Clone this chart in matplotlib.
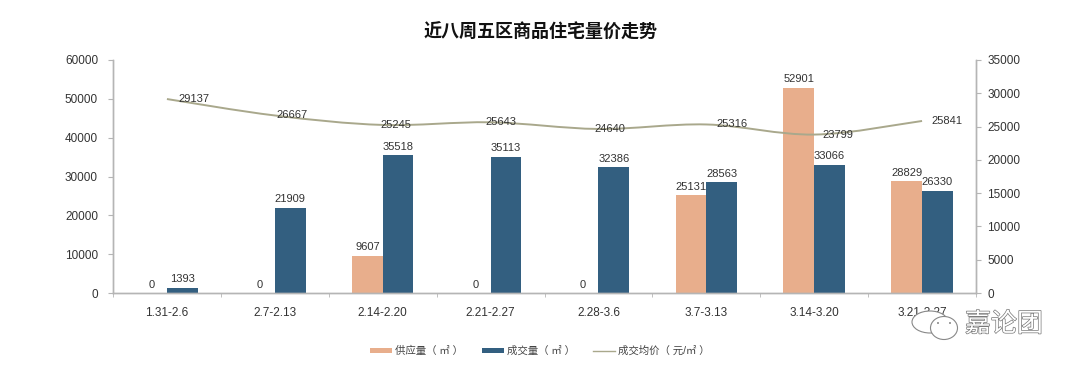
import numpy as np
import matplotlib
matplotlib.use("Agg")
import matplotlib.pyplot as plt
from matplotlib.path import Path
from matplotlib.patches import PathPatch, Ellipse
import matplotlib.patheffects as pe

plt.rcParams['font.family'] = ['Liberation Sans', 'Noto Sans CJK SC', 'DejaVu Sans']

weeks = ["1.31-2.6", "2.7-2.13", "2.14-2.20", "2.21-2.27", "2.28-3.6", "3.7-3.13", "3.14-3.20", "3.21-3.27"]
supply = [0, 0, 9607, 0, 0, 25131, 52901, 28829]
deals = [1393, 21909, 35518, 35113, 32386, 28563, 33066, 26330]
price = [29137, 26667, 25245, 25643, 24640, 25316, 23799, 25841]
left_ticks = [0, 10000, 20000, 30000, 40000, 50000, 60000]
right_ticks = [0, 5000, 10000, 15000, 20000, 25000, 30000, 35000]
price_offsets = [27, 17, 13, 10, 11, 26, 24, 25]

ORANGE = "#E8AE8C"
BLUE = "#335F80"
LINE = "#A9A88C"
GREY = "#B5B5B5"
TXT = "#333333"

W, H = 1080, 373
fig = plt.figure(figsize=(W / 100, H / 100), dpi=100)
ax = fig.add_axes([113 / W, 1 - 293 / H, 863 / W, 233 / H])
ax2 = ax.twinx()

x = np.arange(len(weeks))
bw = 0.285
b1 = ax.bar(x - bw / 2, supply, bw, color=ORANGE, label="供应量（ ㎡ ）")
b2 = ax.bar(x + bw / 2, deals, bw, color=BLUE, label="成交量（ ㎡ ）")

for i in x:
    ax.annotate(str(supply[i]), (i - bw / 2, supply[i]), xytext=(0, 2.5), textcoords="offset points",
                ha="center", va="bottom", fontsize=8, color=TXT)
    ax.annotate(str(deals[i]), (i + bw / 2, deals[i]), xytext=(0, 2.5), textcoords="offset points",
                ha="center", va="bottom", fontsize=8, color=TXT)

# smooth line like excel, catmull-rom through the data points
px = x.astype(float)
py = np.array(price, dtype=float)
verts = [(px[0], py[0])]
codes = [Path.MOVETO]
for i in range(len(px) - 1):
    p0 = max(i - 1, 0)
    p3 = min(i + 2, len(px) - 1)
    verts.append((px[i] + (px[i + 1] - px[p0]) / 6, py[i] + (py[i + 1] - py[p0]) / 6))
    verts.append((px[i + 1] - (px[p3] - px[i]) / 6, py[i + 1] - (py[p3] - py[i]) / 6))
    verts.append((px[i + 1], py[i + 1]))
    codes += [Path.CURVE4, Path.CURVE4, Path.CURVE4]
ax2.add_patch(PathPatch(Path(verts, codes), fc="none", ec=LINE, lw=1.4))
line_handle, = ax2.plot([], [], color=LINE, lw=1.0, label="成交均价（ 元/㎡ ）")

for i in x:
    ax2.annotate(str(price[i]), (i, price[i]), xytext=(price_offsets[i] * 0.72, 0), textcoords="offset points",
                 ha="center", va="center", fontsize=8, color=TXT)

ax.set_xlim(-0.5, len(weeks) - 0.5)
ax.set_ylim(0, 60000)
ax2.set_ylim(0, 35000)
ax.set_yticks(left_ticks)
ax2.set_yticks(right_ticks)
ax.set_xticks(x)
ax.set_xticklabels(weeks)
ax.set_xticks(np.arange(-0.5, len(weeks)), minor=True)
ax.tick_params(axis="x", which="major", length=0, pad=10, labelsize=8.5, labelcolor=TXT)
ax.tick_params(axis="x", which="minor", length=3, color=GREY)
ax.tick_params(axis="y", length=3.6, color=GREY, pad=7.2, labelsize=8.5, labelcolor=TXT)
ax2.tick_params(axis="y", length=3.6, color=GREY, pad=4.5, labelsize=8.5, labelcolor=TXT)

for a in (ax, ax2):
    a.spines["top"].set_visible(False)
    a.patch.set_visible(False)
    for s in ("left", "right", "bottom"):
        a.spines[s].set_color(GREY)
        a.spines[s].set_linewidth(1.0)

fig.text(541 / W, 1 - 32 / H, "近八周五区商品住宅量价走势", ha="center", va="center",
         fontsize=13, fontweight="bold", color="#111111", family=['Noto Sans CJK SC', 'DejaVu Sans'])

fig.legend(handles=[b1, b2, line_handle], loc="center", bbox_to_anchor=(540 / W, 1 - 351 / H), ncol=3,
           frameon=False, fontsize=7.5, labelcolor="#444444", handlelength=2.1, handleheight=0.45,
           handletextpad=0.3, columnspacing=1.75)

# watermark
wm = fig.text(965 / W, 1 - 324 / H, "嘉论团", ha="left", va="center", fontsize=18.7, color="white",
              family=['Noto Sans CJK SC', 'DejaVu Sans'])
wm.set_path_effects([pe.withStroke(linewidth=1.0, foreground="#777777")])
for cx, cy, ew, eh in [(930, 322, 36, 22), (944, 328, 27, 23)]:
    fig.add_artist(Ellipse((cx / W, 1 - cy / H), ew / W, eh / H, transform=fig.transFigure,
                           fc="white", ec="#888888", lw=0.8))
for cx in (938, 950):
    fig.add_artist(Ellipse((cx / W, 1 - 323 / H), 2 / W, 2 / H, transform=fig.transFigure,
                           fc="#888888", ec="none"))

fig.savefig("out.png", dpi=100, facecolor="white")
